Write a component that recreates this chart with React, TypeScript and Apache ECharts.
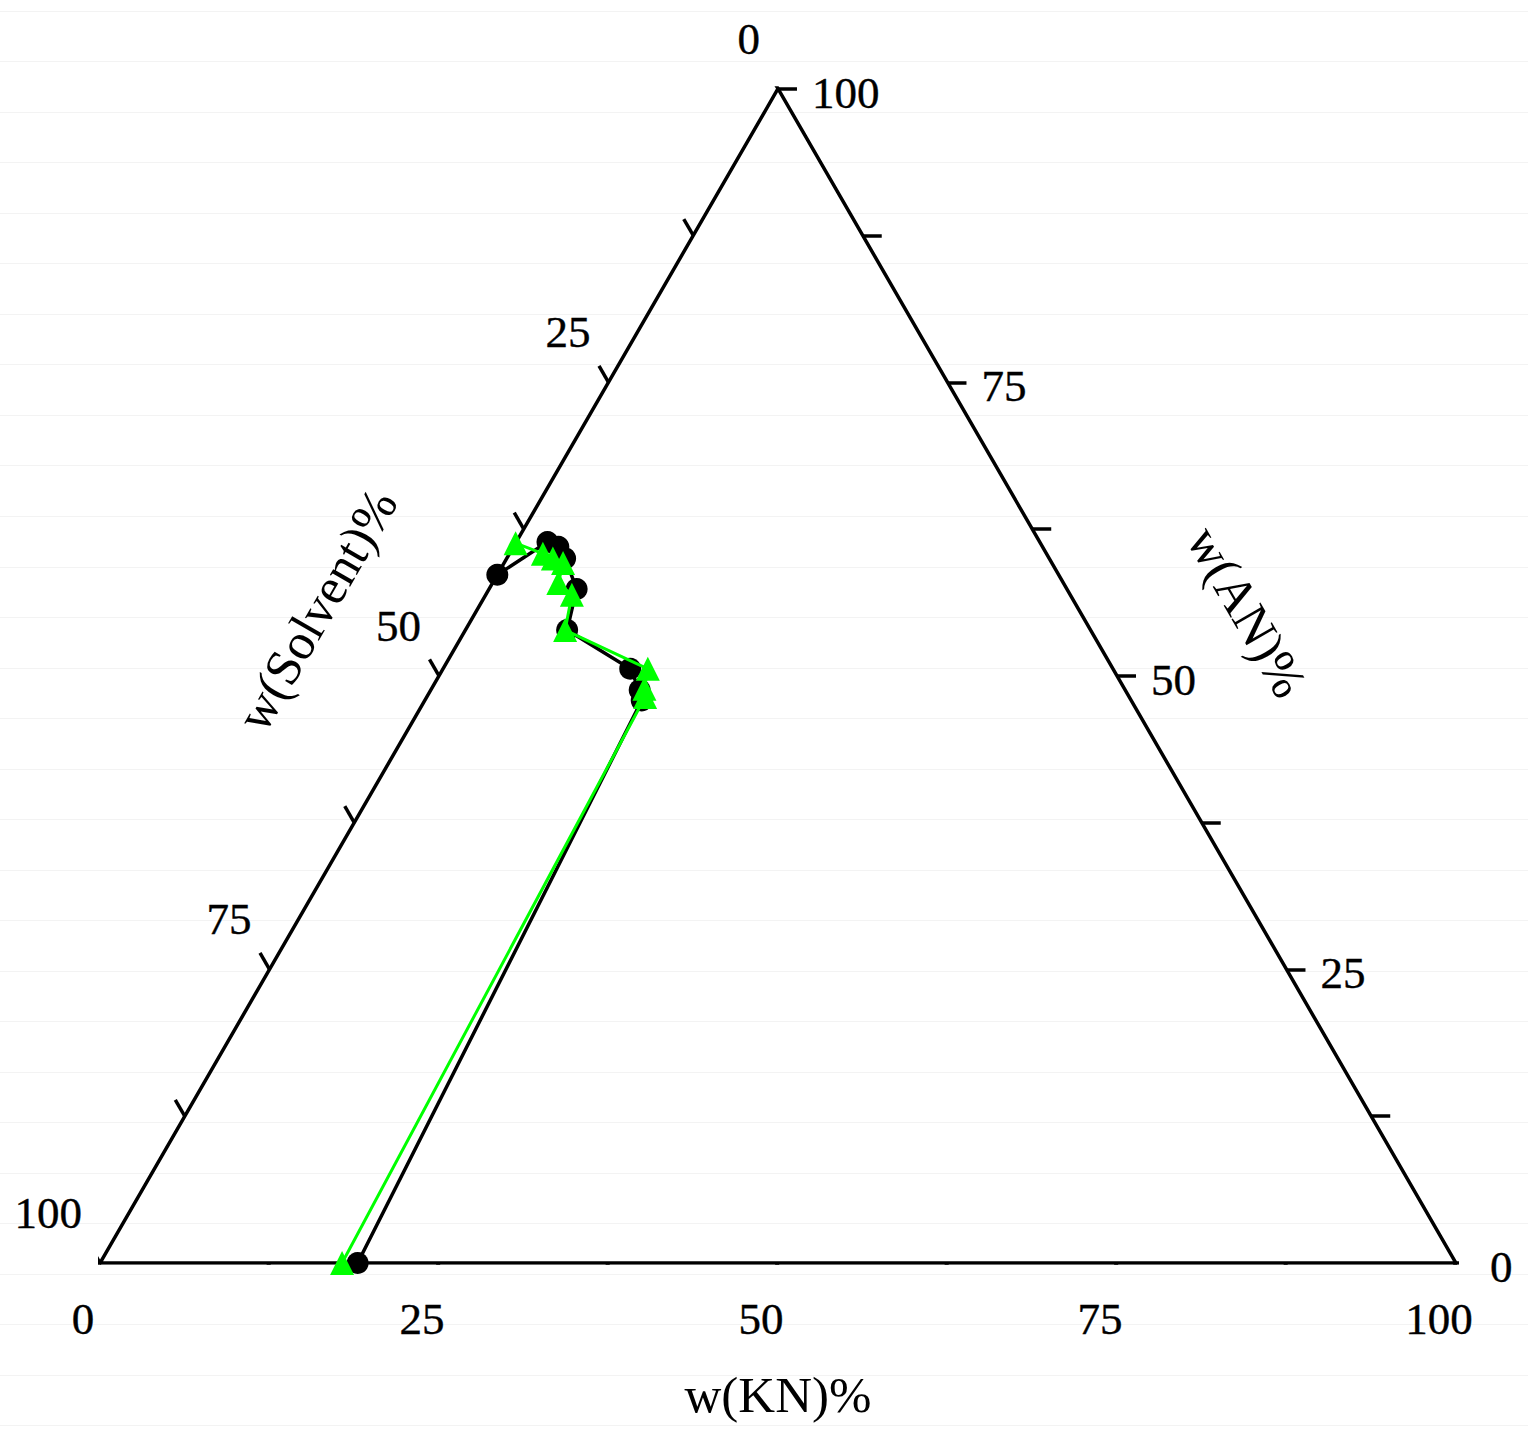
import React, { useEffect, useRef } from "react";
import * as echarts from "echarts";

// Ternary data: w(KN)% and w(AN)%, solvent = 100 - KN - AN
const blackKN = [0.0, 2.3, 3.3, 4.3, 6.45, 7.5, 13.8, 15.4, 16.0, 19.0];
const blackAN = [58.6, 61.4, 61.0, 60.0, 57.4, 53.9, 50.6, 48.8, 47.9, 0.0];
const greenKN = [0.0, 2.46, 3.4, 4.35, 4.85, 6.35, 7.35, 15.1, 15.7, 16.1, 17.85];
const greenAN = [61.3, 60.4, 60.0, 59.6, 57.9, 56.9, 53.9, 50.6, 48.9, 48.2, 0.0];

const tickLabels = [0, 25, 50, 75, 100];
const tickMarks = [0, 12.5, 25, 37.5, 50, 62.5, 75, 87.5, 100];

const SQ = Math.sqrt(3) / 2;
const toXY = (kn: number, an: number) => [kn + an / 2, an * SQ];
const TL = 1.4; // tick length in data units
const FONT = "Liberation Serif, Times New Roman, serif";

export default function App() {
  const ref = useRef<HTMLDivElement>(null);
  useEffect(() => {
    document.body.style.margin = "0";
    const chart = echarts.init(ref.current!, null, { renderer: "svg" });

    const ticks: any[] = [];
    tickMarks.forEach((v) => {
      const b = toXY(v, 0);
      ticks.push({ coords: [b, [b[0] - 0.5 * TL, b[1] - SQ * TL]] });
      const r = toXY(100 - v, v);
      ticks.push({ coords: [r, [r[0] + TL, r[1]]] });
      const l = toXY(0, 100 - v);
      ticks.push({ coords: [l, [l[0] - 0.5 * TL, l[1] + SQ * TL]] });
    });

    const labelSeries = (
      pts: number[][],
      vals: number[],
      align: string,
      offset: number[]
    ) => ({
      type: "scatter",
      symbolSize: 1,
      silent: true,
      itemStyle: { color: "rgba(0,0,0,0)" },
      data: pts.map((p, i) => ({ value: [p[0], p[1], vals[i]] })),
      label: {
        show: true,
        position: "inside",
        align,
        verticalAlign: "middle",
        offset,
        formatter: (p: any) => String(p.value[2]),
        fontFamily: FONT,
        fontSize: 45,
        color: "#000",
        opacity: 1,
        textBorderColor: "#000",
        textBorderWidth: 0.4,
      },
      z: 5,
    });

    const bgLines: any[] = [];
    for (let k = 0; k < 29; k++) {
      const y = Math.round(10.8 + 50.52 * k) + 0.5;
      bgLines.push({
        type: "line",
        shape: { x1: 0, y1: y, x2: 1528, y2: y },
        style: { stroke: "#f3f3f3", lineWidth: 1 },
        z: -10,
      });
    }

    const titleStyle = (text: string) => ({
      text,
      font: `51px ${FONT}`,
      fill: "#000",
      textAlign: "center",
      textVerticalAlign: "middle",
      align: "center",
      verticalAlign: "middle",
    });

    chart.setOption({
      animation: false,
      backgroundColor: "#fff",
      grid: { left: 100, top: 88, width: 1356, height: 1175 },
      xAxis: { type: "value", min: 0, max: 100, show: false },
      yAxis: { type: "value", min: 0, max: (100 * 1175) / 1356, show: false },
      graphic: [
        ...bgLines,
        { type: "text", x: 778, y: 1395, style: titleStyle("w(KN)%") },
        {
          type: "text",
          x: 317,
          y: 610,
          rotation: Math.PI / 3,
          style: titleStyle("w(Solvent)%"),
        },
        {
          type: "text",
          x: 1247,
          y: 612,
          rotation: -Math.PI / 3,
          style: titleStyle("w(AN)%"),
        },
      ],
      series: [
        {
          type: "line",
          data: [toXY(0, 0), toXY(100, 0), toXY(0, 100), toXY(0, 0)],
          symbol: "none",
          lineStyle: { color: "#000", width: 3.5 },
          silent: true,
          z: 2,
        },
        {
          type: "lines",
          coordinateSystem: "cartesian2d",
          data: ticks,
          lineStyle: { color: "#000", width: 3.5, opacity: 1 },
          silent: true,
          z: 2,
        },
        labelSeries(
          tickLabels.map((v) => toXY(v, 0)),
          tickLabels,
          "center",
          [-17, 56]
        ),
        labelSeries(
          tickLabels.map((v) => toXY(100 - v, v)),
          tickLabels,
          "left",
          [34, 4]
        ),
        labelSeries(
          tickLabels.map((v) => toXY(0, 100 - v)),
          tickLabels,
          "right",
          [-18, -50]
        ),
        {
          type: "line",
          data: blackKN.map((k, i) => toXY(k, blackAN[i])),
          symbol: "circle",
          symbolSize: 22,
          showAllSymbol: true,
          itemStyle: { color: "#000" },
          lineStyle: { color: "#000", width: 3.5 },
          z: 10,
        },
        {
          type: "line",
          data: greenKN.map((k, i) => toXY(k, greenAN[i])),
          symbol: "triangle",
          symbolSize: 24,
          showAllSymbol: true,
          itemStyle: { color: "#00ff00" },
          lineStyle: { color: "#00ff00", width: 3 },
          z: 11,
        },
      ],
    });
    return () => chart.dispose();
  }, []);
  return <div ref={ref} style={{ width: 1528, height: 1440 }} />;
}
